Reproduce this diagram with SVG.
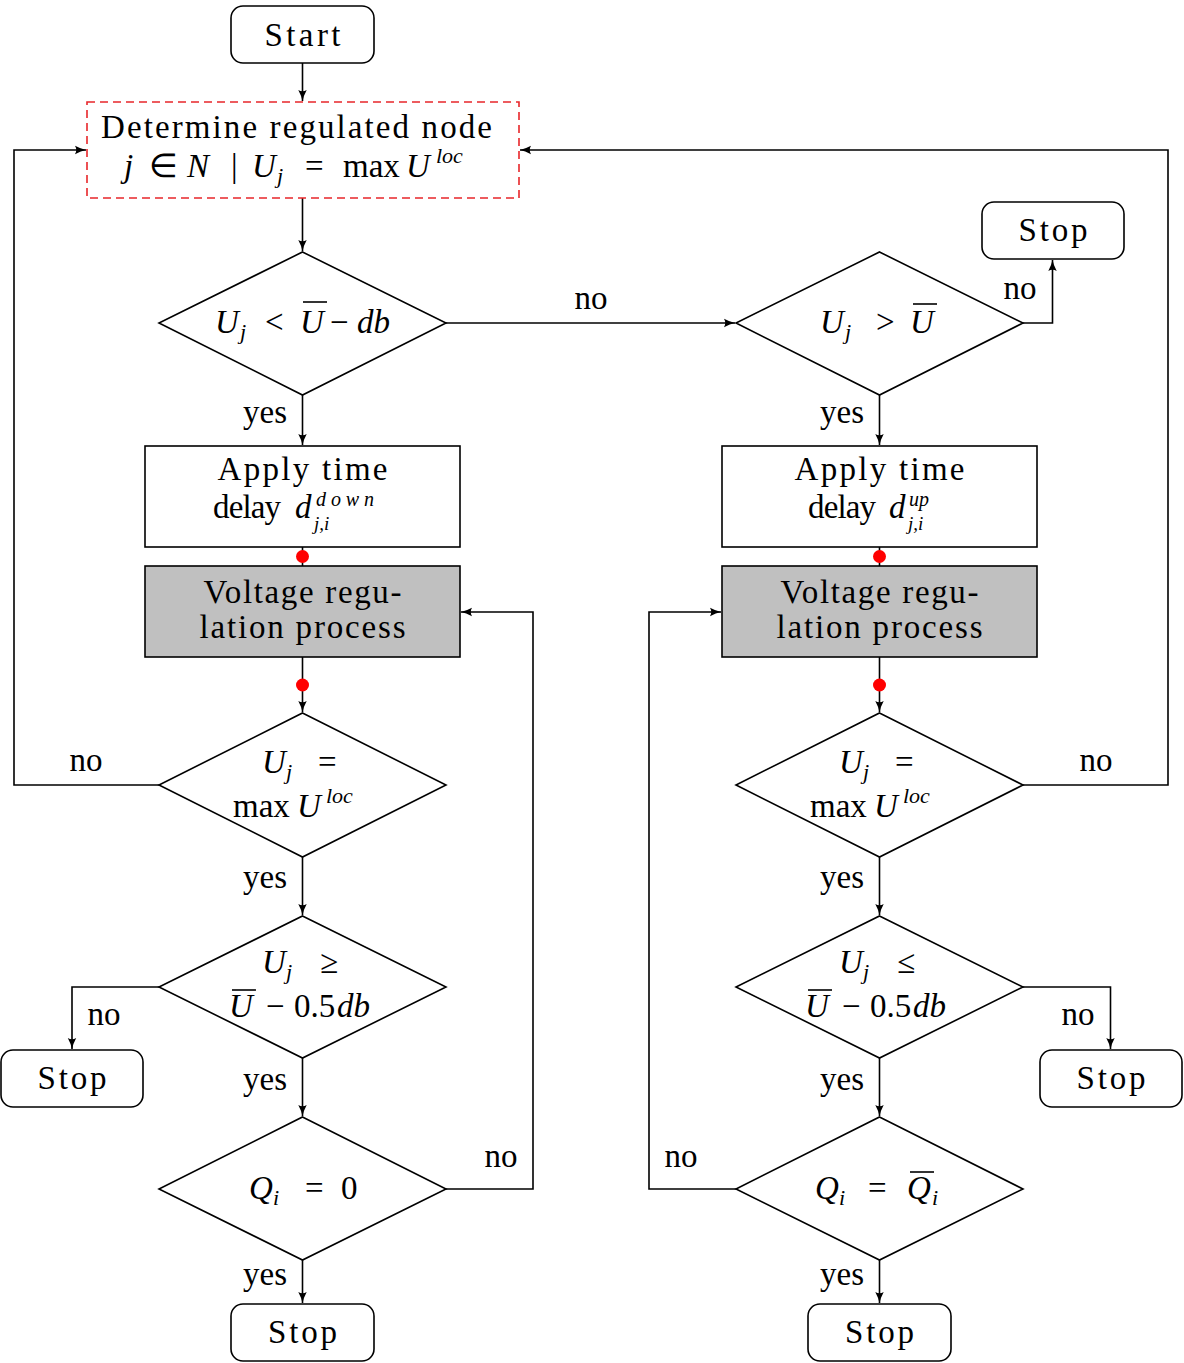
<svg xmlns="http://www.w3.org/2000/svg" width="1184" height="1363" viewBox="0 0 1184 1363">
<style>
text{font-family:"Liberation Serif","Times New Roman",serif;font-size:33px;fill:#000}
.c{text-anchor:middle}
.i{font-style:italic}
.s{font-size:22px;font-style:italic}
.t{font-size:20px;font-style:italic}
.b{font-size:19px;font-style:italic}
.box{fill:#fff;stroke:#000;stroke-width:1.6}
.grey{fill:#c0c0c0;stroke:#000;stroke-width:1.6}
.dash{fill:#fff;stroke:#e8262a;stroke-width:1.6;stroke-dasharray:8 5}
.ln{fill:none;stroke:#000;stroke-width:1.6}
.bar{stroke:#000;stroke-width:1.6}
.dot{fill:#ff0000}
</style>
<defs>
<marker id="ar" markerWidth="12" markerHeight="10" refX="11" refY="5" orient="auto" markerUnits="userSpaceOnUse">
<path d="M0,0.8 Q6,4 11,5 Q6,6 0,9.2 Q2.5,5 0,0.8z" fill="#000"/>
</marker>
</defs>

<g id="connectors">
<path class="ln" d="M302.5,63 V101" marker-end="url(#ar)"/>
<path class="ln" d="M302.5,198 V251" marker-end="url(#ar)"/>
<path class="ln" d="M446,323 H735" marker-end="url(#ar)"/>
<path class="ln" d="M1023,323 H1052.5 V260" marker-end="url(#ar)"/>
<path class="ln" d="M302.5,395 V445" marker-end="url(#ar)"/>
<path class="ln" d="M879.5,395 V445" marker-end="url(#ar)"/>
<path class="ln" d="M302.5,547 V566"/>
<path class="ln" d="M879.5,547 V566"/>
<path class="ln" d="M302.5,657 V712" marker-end="url(#ar)"/>
<path class="ln" d="M879.5,657 V712" marker-end="url(#ar)"/>
<circle class="dot" cx="302.5" cy="556.5" r="6.5"/>
<circle class="dot" cx="879.5" cy="556.5" r="6.5"/>
<circle class="dot" cx="302.5" cy="685" r="6.5"/>
<circle class="dot" cx="879.5" cy="685" r="6.5"/>
<path class="ln" d="M159,785 H14 V150 H86" marker-end="url(#ar)"/>
<path class="ln" d="M1023,785 H1168 V150 H520" marker-end="url(#ar)"/>
<path class="ln" d="M302.5,857 V915" marker-end="url(#ar)"/>
<path class="ln" d="M879.5,857 V915" marker-end="url(#ar)"/>
<path class="ln" d="M159,987 H72 V1049" marker-end="url(#ar)"/>
<path class="ln" d="M1023,987 H1110.5 V1049" marker-end="url(#ar)"/>
<path class="ln" d="M302.5,1058 V1116" marker-end="url(#ar)"/>
<path class="ln" d="M879.5,1058 V1116" marker-end="url(#ar)"/>
<path class="ln" d="M446,1189 H533 V612 H461" marker-end="url(#ar)"/>
<path class="ln" d="M736,1189 H649 V612 H721" marker-end="url(#ar)"/>
<path class="ln" d="M302.5,1260 V1303" marker-end="url(#ar)"/>
<path class="ln" d="M879.5,1260 V1303" marker-end="url(#ar)"/>
<text x="591" y="309" class="c">no</text>
<text x="1020" y="299" class="c">no</text>
<text x="265" y="423" class="c">yes</text>
<text x="842" y="423" class="c">yes</text>
<text x="86" y="771" class="c">no</text>
<text x="1096" y="771" class="c">no</text>
<text x="265" y="888" class="c">yes</text>
<text x="842" y="888" class="c">yes</text>
<text x="104" y="1025" class="c">no</text>
<text x="1078" y="1025" class="c">no</text>
<text x="265" y="1090" class="c">yes</text>
<text x="842" y="1090" class="c">yes</text>
<text x="501" y="1167" class="c">no</text>
<text x="681" y="1167" class="c">no</text>
<text x="265" y="1285" class="c">yes</text>
<text x="842" y="1285" class="c">yes</text>
</g>

<g id="start">
<rect class="box" x="231" y="6" width="143" height="57" rx="12"/>
<text x="302.5" y="46" class="c" textLength="76" lengthAdjust="spacing">Start</text>
</g>

<g id="determine">
<rect class="dash" x="87" y="102" width="432" height="96"/>
<text x="296.5" y="138" class="c" textLength="391" lengthAdjust="spacing">Determine regulated node</text>
<text y="177"><tspan class="i" x="124">j</tspan><tspan x="149">∈</tspan><tspan class="i" x="187">N</tspan><tspan x="231">|</tspan><tspan class="i" x="252">U</tspan><tspan class="s" x="277" y="183">j</tspan><tspan x="305" y="177">=</tspan><tspan x="343">max</tspan><tspan class="i" x="406">U</tspan><tspan class="s" x="436" y="163">loc</tspan></text>
</g>

<g id="cond1">
<polygon class="box" points="302.5,252 446,323 302.5,395 159,323"/>
<text y="333"><tspan class="i" x="215">U</tspan><tspan class="s" x="240" y="339">j</tspan><tspan x="265" y="333">&lt;</tspan><tspan class="i" x="300">U</tspan><tspan x="330">−</tspan><tspan class="i" x="357">db</tspan></text>
<line class="bar" x1="303" y1="302" x2="327" y2="302"/>
</g>

<g id="cond2">
<polygon class="box" points="879.5,252 1023,323 879.5,395 736,323"/>
<text y="333"><tspan class="i" x="820">U</tspan><tspan class="s" x="845" y="339">j</tspan><tspan x="876" y="333">&gt;</tspan><tspan class="i" x="910">U</tspan></text>
<line class="bar" x1="913" y1="304" x2="937" y2="304"/>
</g>

<g id="stop1">
<rect class="box" x="982" y="202" width="142" height="57" rx="12"/>
<text x="1053" y="241" class="c" textLength="69" lengthAdjust="spacing">Stop</text>
</g>

<g id="delayDown">
<rect class="box" x="145" y="446" width="315" height="101"/>
<text x="302.5" y="480" class="c" textLength="170" lengthAdjust="spacing">Apply time</text>
<text y="518"><tspan x="213" textLength="68" lengthAdjust="spacing">delay</tspan><tspan class="i" x="295">d</tspan><tspan class="t" x="316" y="506" textLength="58" lengthAdjust="spacing">down</tspan><tspan class="b" x="314" y="530">j,i</tspan></text>
</g>

<g id="delayUp">
<rect class="box" x="722" y="446" width="315" height="101"/>
<text x="879.5" y="480" class="c" textLength="170" lengthAdjust="spacing">Apply time</text>
<text y="518"><tspan x="808" textLength="68" lengthAdjust="spacing">delay</tspan><tspan class="i" x="889">d</tspan><tspan class="t" x="909" y="506">up</tspan><tspan class="b" x="908" y="530">j,i</tspan></text>
</g>

<g id="vrpLeft">
<rect class="grey" x="145" y="566" width="315" height="91"/>
<text x="302.5" y="603" class="c" textLength="198" lengthAdjust="spacing">Voltage regu-</text>
<text x="302.5" y="638" class="c" textLength="206" lengthAdjust="spacing">lation process</text>
</g>

<g id="vrpRight">
<rect class="grey" x="722" y="566" width="315" height="91"/>
<text x="879.5" y="603" class="c" textLength="198" lengthAdjust="spacing">Voltage regu-</text>
<text x="879.5" y="638" class="c" textLength="206" lengthAdjust="spacing">lation process</text>
</g>

<g id="cond3">
<polygon class="box" points="302.5,713 446,785 302.5,857 159,785"/>
<text y="773"><tspan class="i" x="262">U</tspan><tspan class="s" x="286" y="779">j</tspan><tspan x="318" y="773">=</tspan></text>
<text y="817"><tspan x="233">max</tspan><tspan class="i" x="297">U</tspan><tspan class="s" x="326" y="803">loc</tspan></text>
</g>

<g id="cond4">
<polygon class="box" points="879.5,713 1023,785 879.5,857 736,785"/>
<text y="773"><tspan class="i" x="839">U</tspan><tspan class="s" x="863" y="779">j</tspan><tspan x="895" y="773">=</tspan></text>
<text y="817"><tspan x="810">max</tspan><tspan class="i" x="874">U</tspan><tspan class="s" x="903" y="803">loc</tspan></text>
</g>

<g id="cond5">
<polygon class="box" points="302.5,916 446,987 302.5,1058 159,987"/>
<text y="973"><tspan class="i" x="262">U</tspan><tspan class="s" x="286" y="979">j</tspan><tspan x="320" y="973">≥</tspan></text>
<text y="1017"><tspan class="i" x="229">U</tspan><tspan x="266">−</tspan><tspan x="294">0.5</tspan><tspan class="i" x="337">db</tspan></text>
<line class="bar" x1="232" y1="990" x2="256" y2="990"/>
</g>

<g id="cond6">
<polygon class="box" points="879.5,916 1023,987 879.5,1058 736,987"/>
<text y="973"><tspan class="i" x="839">U</tspan><tspan class="s" x="863" y="979">j</tspan><tspan x="897" y="973">≤</tspan></text>
<text y="1017"><tspan class="i" x="805">U</tspan><tspan x="842">−</tspan><tspan x="870">0.5</tspan><tspan class="i" x="913">db</tspan></text>
<line class="bar" x1="808" y1="990" x2="832" y2="990"/>
</g>

<g id="stop2">
<rect class="box" x="1" y="1050" width="142" height="57" rx="12"/>
<text x="72" y="1089" class="c" textLength="69" lengthAdjust="spacing">Stop</text>
</g>

<g id="stop3">
<rect class="box" x="1040" y="1050" width="142" height="57" rx="12"/>
<text x="1111" y="1089" class="c" textLength="69" lengthAdjust="spacing">Stop</text>
</g>

<g id="cond7">
<polygon class="box" points="302.5,1117 446,1189 302.5,1260 159,1189"/>
<text y="1199"><tspan class="i" x="249">Q</tspan><tspan class="s" x="273" y="1205">i</tspan><tspan x="305" y="1199">=</tspan><tspan x="341">0</tspan></text>
</g>

<g id="cond8">
<polygon class="box" points="879.5,1117 1023,1189 879.5,1260 736,1189"/>
<text y="1199"><tspan class="i" x="815">Q</tspan><tspan class="s" x="839" y="1205">i</tspan><tspan x="868" y="1199">=</tspan><tspan class="i" x="907">Q</tspan><tspan class="s" x="932" y="1205">i</tspan></text>
<line class="bar" x1="910" y1="1172" x2="934" y2="1172"/>
</g>

<g id="stop4">
<rect class="box" x="231" y="1304" width="143" height="57" rx="12"/>
<text x="302.5" y="1343" class="c" textLength="69" lengthAdjust="spacing">Stop</text>
</g>

<g id="stop5">
<rect class="box" x="808" y="1304" width="143" height="57" rx="12"/>
<text x="879.5" y="1343" class="c" textLength="69" lengthAdjust="spacing">Stop</text>
</g>
</svg>
